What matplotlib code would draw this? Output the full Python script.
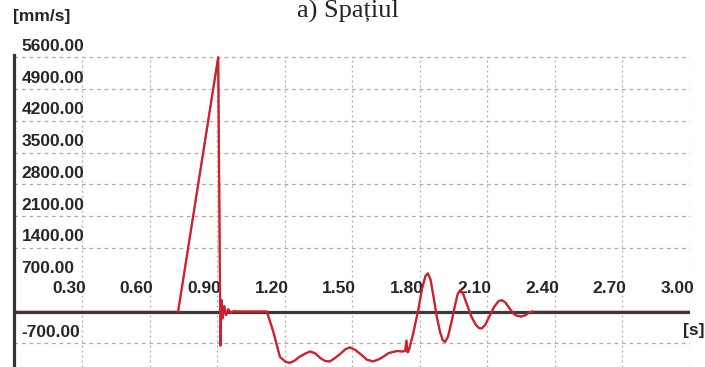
import matplotlib

matplotlib.use("Agg")
import matplotlib.pyplot as plt  # noqa: E402
import numpy as np  # noqa: E402

# velocity record: time [s] and velocity [mm/s]
TIME_S = [
    0.0, 0.727, 0.905, 0.915, 0.920, 0.925, 0.932, 0.940, 0.950, 0.960,
    0.975, 0.990, 1.121, 1.15, 1.179, 1.205, 1.224, 1.245, 1.265, 1.29,
    1.313, 1.335, 1.36, 1.38, 1.401, 1.425, 1.45, 1.47, 1.490, 1.515,
    1.54, 1.565, 1.592, 1.615, 1.64, 1.66, 1.681, 1.70, 1.72, 1.735,
    1.741, 1.746, 1.752, 1.77, 1.792, 1.81, 1.825, 1.836, 1.848, 1.862,
    1.875, 1.89, 1.902, 1.912, 1.925, 1.94, 1.955, 1.968, 1.979, 1.992,
    2.01, 2.03, 2.05, 2.065, 2.076, 2.09, 2.11, 2.13, 2.15, 2.165,
    2.18, 2.20, 2.215, 2.23, 2.25, 2.27, 2.285, 2.30, 3.0,
]
VELOCITY = [
    0, 0, 5600, -750, 250, -150, 120, -80, 50, -30,
    10, 0, 0, -450, -1000, -1110, -1130, -1080, -1000, -930,
    -880, -920, -1030, -1090, -1100, -1020, -920, -830, -790, -850,
    -950, -1060, -1100, -1060, -990, -920, -890, -870, -880, -870,
    -640, -900, -850, -500, 0, 500, 780, 840, 700, 300,
    -100, -450, -630, -670, -560, -250, 100, 380, 470, 400,
    150, -120, -300, -370, -370, -300, -100, 100, 230, 250,
    200, 60, -40, -90, -110, -80, -20, 0, 0,
]

X_TICKS = [0.30, 0.60, 0.90, 1.20, 1.50, 1.80, 2.10, 2.40, 2.70, 3.00]
Y_TICKS = [-700, 700, 1400, 2100, 2800, 3500, 4200, 4900, 5600]
Y_GRID = [-700, 1400, 2100, 2800, 3500, 4200, 4900, 5600]

TITLE = "a) Spațiul"
Y_UNIT = "[mm/s]"
X_UNIT = "[s]"

W, H = 705, 367
LABEL_FONT = dict(family=["Liberation Sans", "DejaVu Sans"], weight="bold",
                  size=12.5, color="#262626")
GRID_KW = dict(color="#ababab", linewidth=0.9, zorder=1)
RED = "#d0202c"


def main() -> None:
    t = np.array(TIME_S)
    v = np.array(VELOCITY, dtype=float)

    fig = plt.figure(figsize=(W / 100, H / 100), dpi=100)
    ax = fig.add_axes([14.4 / W, 0, (690 - 14.4) / W, (367 - 55) / H])
    ax.set_xlim(0, 3.0)
    ax.set_ylim(-1222, 5650)

    for y in Y_GRID:
        ax.axhline(y, dashes=(3, 3), **GRID_KW)
    ax.vlines(X_TICKS, -1222, max(Y_GRID), linestyles=(0, (1.5, 2.5)), **GRID_KW)

    # full trace underneath the zero axis, active part on top of it
    ax.plot(t, v, color="#e88088", linewidth=1.4, zorder=2)
    ax.axhline(0, color="#3a3a3a", linewidth=2.3, zorder=3)
    nz = np.nonzero(v)[0]
    lo, hi = nz[0] - 1, nz[-1] + 2
    ax.plot(t[lo:hi], v[lo:hi], color=RED, linewidth=1.6, zorder=4)

    for x in X_TICKS:
        ax.annotate(f"{x:.2f}", xy=(x, 0), xytext=(4, 23.5),
                    textcoords="offset pixels", ha="right", va="center",
                    **LABEL_FONT)
    for y in Y_TICKS:
        ax.annotate(f"{y:.2f}", xy=(0, y), xycoords=ax.get_yaxis_transform(),
                    xytext=(7, 11), textcoords="offset pixels",
                    ha="left", va="center", **LABEL_FONT)

    for side in ("top", "right", "bottom"):
        ax.spines[side].set_visible(False)
    ax.spines["left"].set_color("#333333")
    ax.spines["left"].set_linewidth(2.3)
    ax.set_xticks([])
    ax.set_yticks([])

    fig.text(13 / W, 1 - 17 / H, Y_UNIT, ha="left", va="center", **LABEL_FONT)
    fig.text(1.0, 1 - 331 / H, X_UNIT, ha="right", va="center", **LABEL_FONT)
    fig.text(348 / W, 1 - 17.5 / H, TITLE, ha="center", va="baseline",
             family=["Liberation Serif", "DejaVu Serif"], size=19, color="#222222")

    fig.savefig("out.png", dpi=100)
    plt.close(fig)


if __name__ == "__main__":
    main()
